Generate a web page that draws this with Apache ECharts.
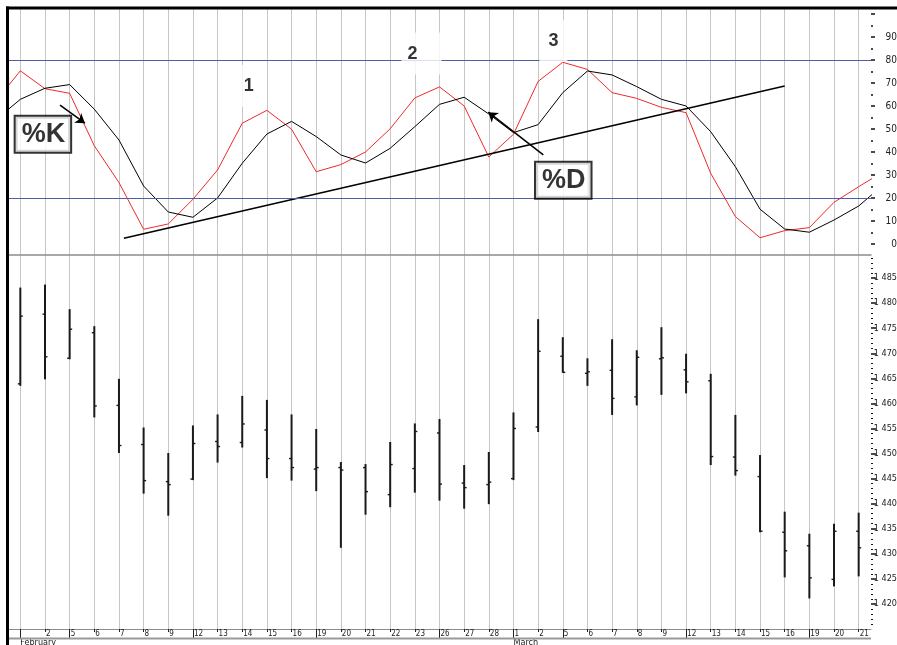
<!DOCTYPE html>
<html>
<head>
<meta charset="utf-8">
<title>Stochastic %K / %D</title>
<script src="https://cdn.jsdelivr.net/npm/echarts@6/dist/echarts.min.js"></script>
<style>
html, body { margin: 0; padding: 0; background: #fff; }
#chart { width: 897px; height: 645px; }
</style>
</head>
<body>
<div id="chart"></div>
<script>
// trading days, February + March
const dates = ['Feb 1','Feb 2','Feb 5','Feb 6','Feb 7','Feb 8','Feb 9','Feb 12','Feb 13','Feb 14','Feb 15','Feb 16',
  'Feb 19','Feb 20','Feb 21','Feb 22','Feb 23','Feb 26','Feb 27','Feb 28',
  'Mar 1','Mar 2','Mar 5','Mar 6','Mar 7','Mar 8','Mar 9','Mar 12','Mar 13','Mar 14','Mar 15','Mar 16','Mar 19','Mar 20','Mar 21'];
const monthNames = ['February', 'March'];
const monthStarts = [0, 20];
const weekStarts = [0, 2, 7, 12, 17, 20, 22, 27, 32];

// stochastic values, first = day before Feb 1, last = day after Mar 21 (clipped at the edges)
const kValues = [62, 75.3, 67.5, 65.5, 42.7, 26.7, 6.4, 8.7, 19.4, 32.2, 52.5, 58.1, 49.9,
  31.4, 34.5, 40, 50.1, 63.5, 68.3, 60, 37.8,
  47.7, 70.7, 79, 75.9, 65.8, 63.3, 59.4, 57.1, 30.7, 11.9, 2.7, 5.8, 7.1, 18.1, 24.9, 31.4];
const dValues = [53.9, 62.9, 67.7, 69.3, 58.6, 45.2, 25.2, 13.9, 11.6, 20, 35.1, 47.8, 53.3,
  46.7, 38.7, 35.2, 41.6, 51, 60.7, 63.8, 56.5,
  48.4, 51.9, 65.8, 75.2, 73.5, 68.4, 62.9, 60, 48.8, 33.6, 15.1, 6.5, 5.1, 10.4, 16.5, 25.7];
const trendLine = [[4.2, 2.5], [31.0, 68.7]];

// price bars
const opens  = [1463.9, 1477.8, 1469.0, 1474.1, 1459.6, 1451.8, 1444.4, 1444.9, 1452.4, 1452.2, 1454.7, 1449.0,
  1446.9, 1447.2, 1447.2, 1441.8, 1447.0, 1454.1, 1444.1, 1443.8,
  1445.0, 1455.3, 1469.4, 1466.0, 1466.6, 1461.3, 1468.9, 1466.7, 1464.5, 1449.3, 1445.4, 1434.3, 1431.6, 1424.9, 1434.5];
const highs  = [1483.1, 1483.7, 1478.8, 1475.4, 1464.9, 1455.2, 1450.1, 1455.6, 1457.8, 1461.5, 1460.7, 1457.8,
  1454.9, 1448.3, 1447.9, 1452.3, 1456.0, 1456.9, 1447.7, 1450.3,
  1458.2, 1476.8, 1473.2, 1469.0, 1472.8, 1470.6, 1475.2, 1469.9, 1465.9, 1457.7, 1449.7, 1438.4, 1434.0, 1436.0, 1438.2];
const lows   = [1463.5, 1464.8, 1468.8, 1457.2, 1450.1, 1442.0, 1437.6, 1444.7, 1448.2, 1451.2, 1445.1, 1444.6,
  1442.5, 1431.2, 1437.8, 1439.3, 1442.2, 1440.6, 1439.0, 1439.9,
  1444.7, 1454.3, 1466.1, 1463.5, 1457.7, 1459.6, 1461.7, 1462.0, 1447.7, 1445.6, 1434.3, 1425.3, 1421.1, 1423.5, 1425.5];
const closes = [1477.4, 1469.3, 1474.8, 1459.5, 1451.6, 1444.6, 1443.8, 1452.0, 1451.4, 1455.9, 1449.0, 1447.2,
  1447.2, 1446.7, 1442.4, 1447.8, 1454.4, 1443.9, 1443.2, 1444.3,
  1455.0, 1470.4, 1466.2, 1466.3, 1461.0, 1469.2, 1469.1, 1464.3, 1449.4, 1446.6, 1434.5, 1430.6, 1425.2, 1434.5, 1431.2];

// axis ticks
const stochTicks = [0, 10, 20, 30, 40, 50, 60, 70, 80, 90, 100];
const stochLabels = [0, 10, 20, 30, 40, 50, 60, 70, 80, 90];
const stochMinor = [5, 15, 25, 35, 45, 55, 65, 75, 85, 95];
const priceTicks = [1420, 1425, 1430, 1435, 1440, 1445, 1450, 1455, 1460, 1465, 1470, 1475, 1480, 1485];
const priceMinor = [];
for (let v = 1416; v <= 1489; v++) if (v % 5 !== 0) priceMinor.push(v);

// annotations (index on the day axis, value on the %K/%D axis)
const waveLabels = [
  { name: '1', value: [9.26, 68.7] },
  { name: '2', value: [16.27, 82.8], label: { padding: [12, 24, 12, 6] } },
  { name: '3', value: [21.62, 88.3] }
];
const boxLabels = [{ name: '%K', value: [0.915, 47.7] }, { name: '%D', value: [22.02, 27.7] }];
const arrows = [[[1.61, 60.4], [2.62, 52.5]], [[21.21, 38.7], [18.98, 57.3]]];

const narrow = "'Liberation Sans Narrow', 'Arial Narrow', 'DejaVu Sans Condensed', sans-serif";
const gridColor = '#c6c6c6';

const myChart = echarts.init(document.getElementById('chart'));

const option = {
  animation: false,
  grid: [
    { left: 8, top: 8, width: 863, height: 247, outerBoundsMode: 'none', containLabel: false },
    { left: 8, top: 255, width: 863, height: 374, outerBoundsMode: 'none', containLabel: false }
  ],
  xAxis: [
    {
      gridIndex: 0, type: 'category', data: dates, position: 'bottom',
      axisLine: { show: true, onZero: false, lineStyle: { color: '#8c8c8c', width: 1.5 } },
      axisTick: { show: false }, axisLabel: { show: false },
      splitLine: { show: true, interval: 0, alignWithLabel: true, lineStyle: { color: gridColor, width: 1 } }
    },
    { gridIndex: 0, type: 'value', min: -0.5, max: 34.5, position: 'top', show: false, axisLine: { onZero: false } },
    {
      gridIndex: 1, type: 'category', data: dates, position: 'bottom',
      axisLine: { show: true, onZero: false, lineStyle: { color: '#8c8c8c', width: 1 } },
      axisTick: { show: true, interval: 0, alignWithLabel: true, length: 3, lineStyle: { color: '#222' } },
      axisLabel: {
        interval: idx => idx !== 0, align: 'left', margin: 1, padding: [0, 0, 0, 1],
        fontSize: 8, lineHeight: 8, color: '#222', fontFamily: narrow,
        formatter: v => v.split(' ')[1]
      },
      splitLine: { show: true, interval: 0, alignWithLabel: true, lineStyle: { color: gridColor, width: 1 } }
    },
    {
      gridIndex: 1, type: 'category', data: dates, position: 'bottom',
      axisLine: { show: false, onZero: false },
      axisTick: { show: true, alignWithLabel: true, length: 9, interval: idx => weekStarts.includes(idx), lineStyle: { color: '#222' } },
      axisLabel: { show: false }, splitLine: { show: false }
    },
    {
      gridIndex: 1, type: 'category', data: dates, position: 'bottom',
      axisLine: { show: false, onZero: false }, axisTick: { show: false }, splitLine: { show: false },
      axisLabel: {
        interval: idx => monthStarts.includes(idx), align: 'left', margin: 9,
        fontSize: 9, lineHeight: 9, color: '#222', fontFamily: narrow,
        formatter: (v, idx) => monthNames[monthStarts.indexOf(idx)]
      }
    }
  ],
  yAxis: [
    {
      gridIndex: 0, type: 'value', min: -4.8, max: 102.6, position: 'right',
      axisLine: { show: false, onZero: false }, splitLine: { show: false },
      axisTick: { show: true, customValues: stochTicks, length: 4, lineStyle: { color: '#111', width: 1.5 } },
      axisLabel: { customValues: stochLabels, align: 'right', margin: 26, fontSize: 10, color: '#222', fontFamily: narrow }
    },
    {
      gridIndex: 0, type: 'value', min: -4.8, max: 102.6, position: 'right',
      axisLine: { show: false, onZero: false }, splitLine: { show: false }, axisLabel: { show: false },
      axisTick: { show: true, customValues: stochMinor, length: 2, lineStyle: { color: '#111', width: 1.5 } }
    },
    {
      gridIndex: 1, type: 'value', min: 1415, max: 1489.6, position: 'right',
      axisLine: { show: false, onZero: false }, splitLine: { show: false },
      axisTick: { show: true, customValues: priceTicks, length: 5, lineStyle: { color: '#111', width: 1.5 } },
      axisLabel: {
        customValues: priceTicks, align: 'right', margin: 26, fontSize: 9, color: '#222', fontFamily: narrow,
        formatter: v => String(v).replace(/(\d)(\d{3})$/, '$1 $2')
      }
    },
    {
      gridIndex: 1, type: 'value', min: 1415, max: 1489.6, position: 'right',
      axisLine: { show: false, onZero: false }, splitLine: { show: false }, axisLabel: { show: false },
      axisTick: { show: true, customValues: priceMinor, length: 2, lineStyle: { color: '#111', width: 1.2 } }
    }
  ],
  series: [
    {
      name: '%K', type: 'line', xAxisIndex: 1, yAxisIndex: 0, clip: true,
      data: kValues.map((v, i) => [i - 1, v]),
      showSymbol: false, symbol: 'none',
      lineStyle: { color: '#ee2a2a', width: 1 },
      markLine: {
        silent: true, symbol: 'none', label: { show: false },
        lineStyle: { color: '#4f5fa6', width: 1, type: 'solid' },
        data: [{ yAxis: 20 }, { yAxis: 80 }]
      }
    },
    {
      name: '%D', type: 'line', xAxisIndex: 1, yAxisIndex: 0, clip: true,
      data: dValues.map((v, i) => [i - 1, v]),
      showSymbol: false, symbol: 'none',
      lineStyle: { color: '#000', width: 1 }
    },
    {
      name: 'trend', type: 'line', xAxisIndex: 1, yAxisIndex: 0,
      data: trendLine, showSymbol: false, symbol: 'none',
      lineStyle: { color: '#000', width: 1.6 }
    },
    {
      type: 'lines', coordinateSystem: 'cartesian2d', xAxisIndex: 1, yAxisIndex: 0,
      data: arrows.map(c => ({ coords: c })),
      symbol: ['none', 'arrow'], symbolSize: 9,
      lineStyle: { color: '#000', width: 1.5, opacity: 1 }, z: 5
    },
    {
      type: 'scatter', xAxisIndex: 1, yAxisIndex: 0, symbolSize: 0, z: 10,
      itemStyle: { color: '#000' },
      data: waveLabels,
      label: {
        show: true, position: 'inside', formatter: p => p.name,
        fontSize: 18, fontWeight: 'bold', color: '#000', fontFamily: 'Liberation Sans, Arial, sans-serif',
        textBorderWidth: 0, textBorderColor: 'transparent', textShadowBlur: 0,
        backgroundColor: '#fff', padding: [12, 9]
      }
    },
    {
      type: 'scatter', xAxisIndex: 1, yAxisIndex: 0, symbolSize: 0, z: 11,
      itemStyle: { color: '#000' },
      data: boxLabels,
      label: {
        show: true, position: 'inside', formatter: p => p.name,
        fontSize: 27, lineHeight: 28, fontWeight: 'bold', color: '#000', fontFamily: 'Liberation Sans, Arial, sans-serif',
        textBorderWidth: 0, textBorderColor: 'transparent', textShadowBlur: 0,
        backgroundColor: '#fff', borderColor: '#000', borderWidth: 2, padding: [4, 5, 3, 6]
      }
    },
    {
      name: 'price', type: 'custom', xAxisIndex: 2, yAxisIndex: 2,
      data: dates.map((d, i) => [i, opens[i], highs[i], lows[i], closes[i]]),
      encode: { x: 0, y: [1, 2, 3, 4] },
      renderItem: (params, api) => {
        const x = api.value(0);
        const o = api.coord([x, api.value(1)]);
        const h = api.coord([x, api.value(2)]);
        const l = api.coord([x, api.value(3)]);
        const c = api.coord([x, api.value(4)]);
        const tick = { stroke: '#1a1a1a', lineWidth: 1.4 };
        return {
          type: 'group',
          children: [
            { type: 'line', shape: { x1: h[0], y1: h[1], x2: l[0], y2: l[1] }, style: { stroke: '#1a1a1a', lineWidth: 2 } },
            { type: 'line', shape: { x1: o[0] - 2.5, y1: o[1], x2: o[0], y2: o[1] }, style: tick },
            { type: 'line', shape: { x1: c[0], y1: c[1], x2: c[0] + 2.5, y2: c[1] }, style: tick }
          ]
        };
      }
    }
  ],
  graphic: [
    { type: 'rect', z: 100, shape: { x: 6, y: 6.5, width: 891, height: 3 }, style: { fill: '#000' } },
    { type: 'rect', z: 100, shape: { x: 6, y: 6.5, width: 3, height: 640 }, style: { fill: '#000' } },
    { type: 'rect', z: 100, shape: { x: 9, y: 637.5, width: 862, height: 2 }, style: { fill: '#999' } }
  ]
};

myChart.setOption(option);
</script>
</body>
</html>
